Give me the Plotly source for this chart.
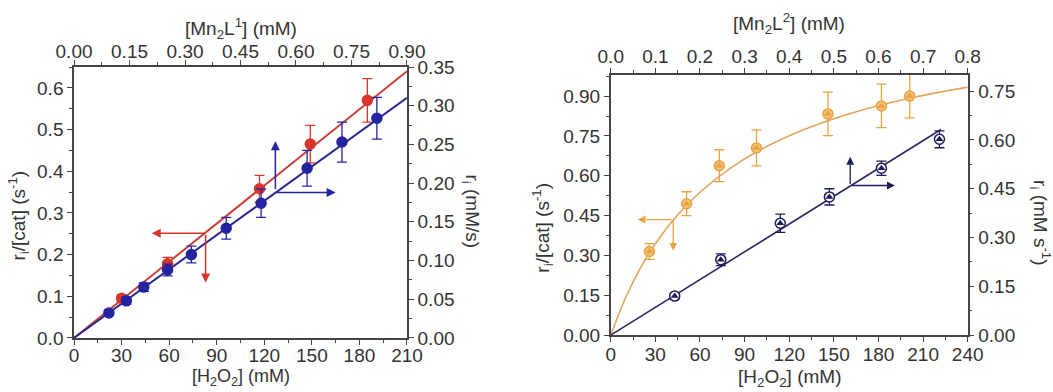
import plotly.graph_objects as go

# ---------------- Left panel data ----------------
red_x = [30, 59, 117, 149, 185]
red_y = [0.095, 0.178, 0.358, 0.465, 0.570]
red_err = [0.008, 0.015, 0.032, 0.045, 0.052]
red_fit_x = [0, 210]
red_fit_y = [0.0, 0.640]

blue_x = [22, 33, 44, 59, 74, 96, 118, 147, 169, 191]
blue_y = [0.060, 0.089, 0.122, 0.163, 0.200, 0.263, 0.323, 0.407, 0.470, 0.527]
blue_err = [0.006, 0.008, 0.010, 0.014, 0.020, 0.026, 0.034, 0.043, 0.048, 0.050]
blue_fit_x = [0, 210]
blue_fit_y = [0.0, 0.576]

# top / right secondary axis scales (left panel)
mn2l1_ticks = [0.0, 0.15, 0.30, 0.45, 0.60, 0.75, 0.90]
ri_left_ticks = [0.0, 0.05, 0.10, 0.15, 0.20, 0.25, 0.30, 0.35]

# ---------------- Right panel data ----------------
orange_x = [26, 51, 73, 98, 146, 182, 201]
orange_y = [0.315, 0.495, 0.638, 0.705, 0.833, 0.863, 0.900]
orange_err = [0.030, 0.045, 0.060, 0.068, 0.082, 0.082, 0.082]
orange_fit_x = [0, 10, 20, 30, 45, 60, 80, 100, 130, 160, 200, 240]
orange_fit_y = [0.0, 0.141, 0.253, 0.344, 0.453, 0.538, 0.627, 0.696, 0.774, 0.833, 0.891, 0.934]

navy_x = [43, 74, 114, 147, 182, 221]
navy_y = [0.120, 0.232, 0.344, 0.425, 0.513, 0.602]
navy_err = [0.010, 0.018, 0.028, 0.025, 0.022, 0.026]
navy_fit_x = [0, 222]
navy_fit_y = [0.0, 0.632]

mn2l2_ticks = [0.0, 0.1, 0.2, 0.3, 0.4, 0.5, 0.6, 0.7, 0.8]

# arrows: (x_tail, y_tail, x_head, y_head)
left_arrows_red = [(83, 0.251, 49, 0.251), (83, 0.251, 83, 0.133)]
left_arrows_blue = [(127, 0.353, 127, 0.472), (127, 0.349, 165, 0.349)]
right_arrows_orange = [(42, 0.435, 18, 0.435), (42, 0.435, 42, 0.318)]
right_arrows_navy = [(161, 0.46, 161, 0.548), (161, 0.46, 191, 0.46)]

# axis titles
title_h2o2 = "[H<sub>2</sub>O<sub>2</sub>] (mM)"
title_mn1 = "[Mn<sub>2</sub>L<sup>1</sup>] (mM)"
title_mn2 = "[Mn<sub>2</sub>L<sup>2</sup>] (mM)"
title_rcat = "r<sub>i</sub>/[cat] (s<sup>-1</sup>)"
title_ri_1 = "r<sub>i</sub> (mM/s)"
title_ri_2 = "r<sub>i</sub> (mM s<sup>-1</sup>)"

RED = "#d8352c"
RED_LINE = "#c8403a"
BLUE = "#2424a0"
BLUE_LINE = "#27278f"
ORANGE = "#e8a343"
ORANGE_LINE = "#e2a45a"
NAVY = "#1c1c5c"
NAVY_LINE = "#2a2a60"
AX = "#444444"
TXT = "#333333"
FONT = "Liberation Sans, Arial, sans-serif"
FS = 19

fig = go.Figure()


def errtrace(x, y, e, color, xa, ya, symbol, size, fill, lw=1.5):
    return go.Scatter(
        x=x, y=y, mode="markers", xaxis=xa, yaxis=ya, showlegend=False,
        error_y=dict(type="data", array=e, color=color, thickness=1.3, width=5),
        marker=dict(symbol=symbol, size=size, color=fill, line=dict(color=color, width=lw)),
    )


def ghost(x, y, xa, ya):
    return go.Scatter(x=x, y=y, mode="markers", xaxis=xa, yaxis=ya, showlegend=False,
                      hoverinfo="skip", marker=dict(opacity=0, size=1))


# secondary-axis carriers (invisible)
fig.add_trace(ghost(mn2l1_ticks, [0.0] * len(mn2l1_ticks), "x2", "y2"))
fig.add_trace(ghost([0.0] * len(ri_left_ticks), ri_left_ticks, "x", "y2"))
fig.add_trace(ghost(mn2l2_ticks, [0.0] * len(mn2l2_ticks), "x4", "y4"))

# left panel
fig.add_trace(go.Scatter(x=red_fit_x, y=red_fit_y, mode="lines", xaxis="x", yaxis="y",
                         line=dict(color=RED_LINE, width=2), showlegend=False))
fig.add_trace(go.Scatter(x=blue_fit_x, y=blue_fit_y, mode="lines", xaxis="x", yaxis="y",
                         line=dict(color=BLUE_LINE, width=2), showlegend=False))
fig.add_trace(errtrace(red_x, red_y, red_err, RED, "x", "y", "circle", 10, RED))
fig.add_trace(errtrace(blue_x, blue_y, blue_err, BLUE, "x", "y", "circle", 10, BLUE))

# right panel
fig.add_trace(go.Scatter(x=orange_fit_x, y=orange_fit_y, mode="lines", xaxis="x3", yaxis="y3",
                         line=dict(color=ORANGE_LINE, width=1.6, shape="spline"), showlegend=False))
fig.add_trace(go.Scatter(x=navy_fit_x, y=navy_fit_y, mode="lines", xaxis="x3", yaxis="y4",
                         line=dict(color=NAVY_LINE, width=1.6), showlegend=False))
fig.add_trace(errtrace(orange_x, orange_y, orange_err, ORANGE, "x3", "y3", "circle", 10, "#f0c27a"))
fig.add_trace(go.Scatter(x=orange_x, y=orange_y, mode="markers", xaxis="x3", yaxis="y3", showlegend=False,
                         marker=dict(symbol="triangle-up", size=7, color=ORANGE)))
fig.add_trace(errtrace(navy_x, navy_y, navy_err, NAVY, "x3", "y4", "circle", 10, "#ffffff"))
fig.add_trace(go.Scatter(x=navy_x, y=navy_y, mode="markers", xaxis="x3", yaxis="y4", showlegend=False,
                         marker=dict(symbol="triangle-up", size=7, color=NAVY)))

annotations = []


def add_arrows(lst, color, xr, yr, width=1.5):
    for (xt, yt, xh, yh) in lst:
        annotations.append(dict(
            x=xh, y=yh, ax=xt, ay=yt, xref=xr, yref=yr, axref=xr, ayref=yr,
            showarrow=True, arrowhead=2, arrowsize=1.2, arrowwidth=width, arrowcolor=color, text=""))


add_arrows(left_arrows_red, RED, "x", "y")
add_arrows(left_arrows_blue, BLUE, "x", "y")
add_arrows(right_arrows_orange, ORANGE, "x3", "y3", 1.3)
add_arrows(right_arrows_navy, NAVY, "x3", "y4", 1.3)


def title_ann(text, x, y, angle=0, size=FS):
    annotations.append(dict(text=text, x=x, y=y, xref="paper", yref="paper",
                            xanchor="center", yanchor="middle", textangle=angle, showarrow=False,
                            font=dict(size=size, color=TXT, family=FONT)))


# axis titles placed as annotations
title_ann(title_h2o2, 0.2284, 0.036, size=18)
title_ann(title_h2o2, 0.7495, 0.036)
title_ann(title_mn1, 0.2284, 0.928)
title_ann(title_mn2, 0.7495, 0.940)
title_ann(title_rcat, 0.018, 0.45, -90)
title_ann(title_rcat, 0.515, 0.42, -90)
title_ann(title_ri_1, 0.4475, 0.46, 90)
title_ann(title_ri_2, 0.988, 0.43, 90)

tickfont = dict(size=FS, color=TXT, family=FONT)


def minor(dt):
    return dict(ticks="outside", ticklen=3, tickcolor=AX, tickwidth=1, dtick=dt)


def axstyle(**kw):
    d = dict(showline=True, linecolor=AX, linewidth=1.5, ticks="outside", ticklen=5, tickwidth=1.3,
             tickcolor=AX, showgrid=False, zeroline=False, tickfont=tickfont, automargin=False)
    d.update(kw)
    return d


L_X = [0.0703, 0.3865]
L_Y = [0.138, 0.829]
R_X = [0.580, 0.919]
R_Y = [0.145, 0.809]

fig.update_layout(
    width=1053, height=392, margin=dict(l=0, r=0, t=0, b=0),
    paper_bgcolor="white", plot_bgcolor="white", font=dict(family=FONT),
    xaxis=axstyle(domain=L_X, anchor="y", range=[0, 210], dtick=30, tick0=0, minor=minor(15),
                  ticklabelstandoff=-5),
    xaxis2=axstyle(domain=L_X, anchor="y", overlaying="x", side="top", range=[0, 0.9], dtick=0.15,
                   tickformat=".2f", minor=minor(0.075), ticklabelstandoff=-5),
    yaxis=axstyle(domain=L_Y, anchor="x", range=[0, 0.65], dtick=0.1, tickformat=".1f", minor=minor(0.05)),
    yaxis2=axstyle(domain=L_Y, anchor="x", overlaying="y", side="right", range=[0, 0.35], dtick=0.05,
                   tickformat=".2f", minor=minor(0.025)),
    xaxis3=axstyle(domain=R_X, anchor="y3", range=[0, 240], dtick=30, minor=minor(15),
                   ticklabelstandoff=-4),
    xaxis4=axstyle(domain=R_X, anchor="y3", overlaying="x3", side="top", range=[0, 0.8], dtick=0.1,
                   tickformat=".1f", minor=minor(0.05), ticklabelstandoff=-2),
    yaxis3=axstyle(domain=R_Y, anchor="x3", range=[0, 0.98], dtick=0.15, tickformat=".2f", minor=minor(0.075)),
    yaxis4=axstyle(domain=R_Y, anchor="x3", overlaying="y3", side="right", range=[0, 0.8], dtick=0.15,
                   tickformat=".2f", minor=minor(0.075)),
    annotations=annotations,
)

fig.write_html("out.html")
